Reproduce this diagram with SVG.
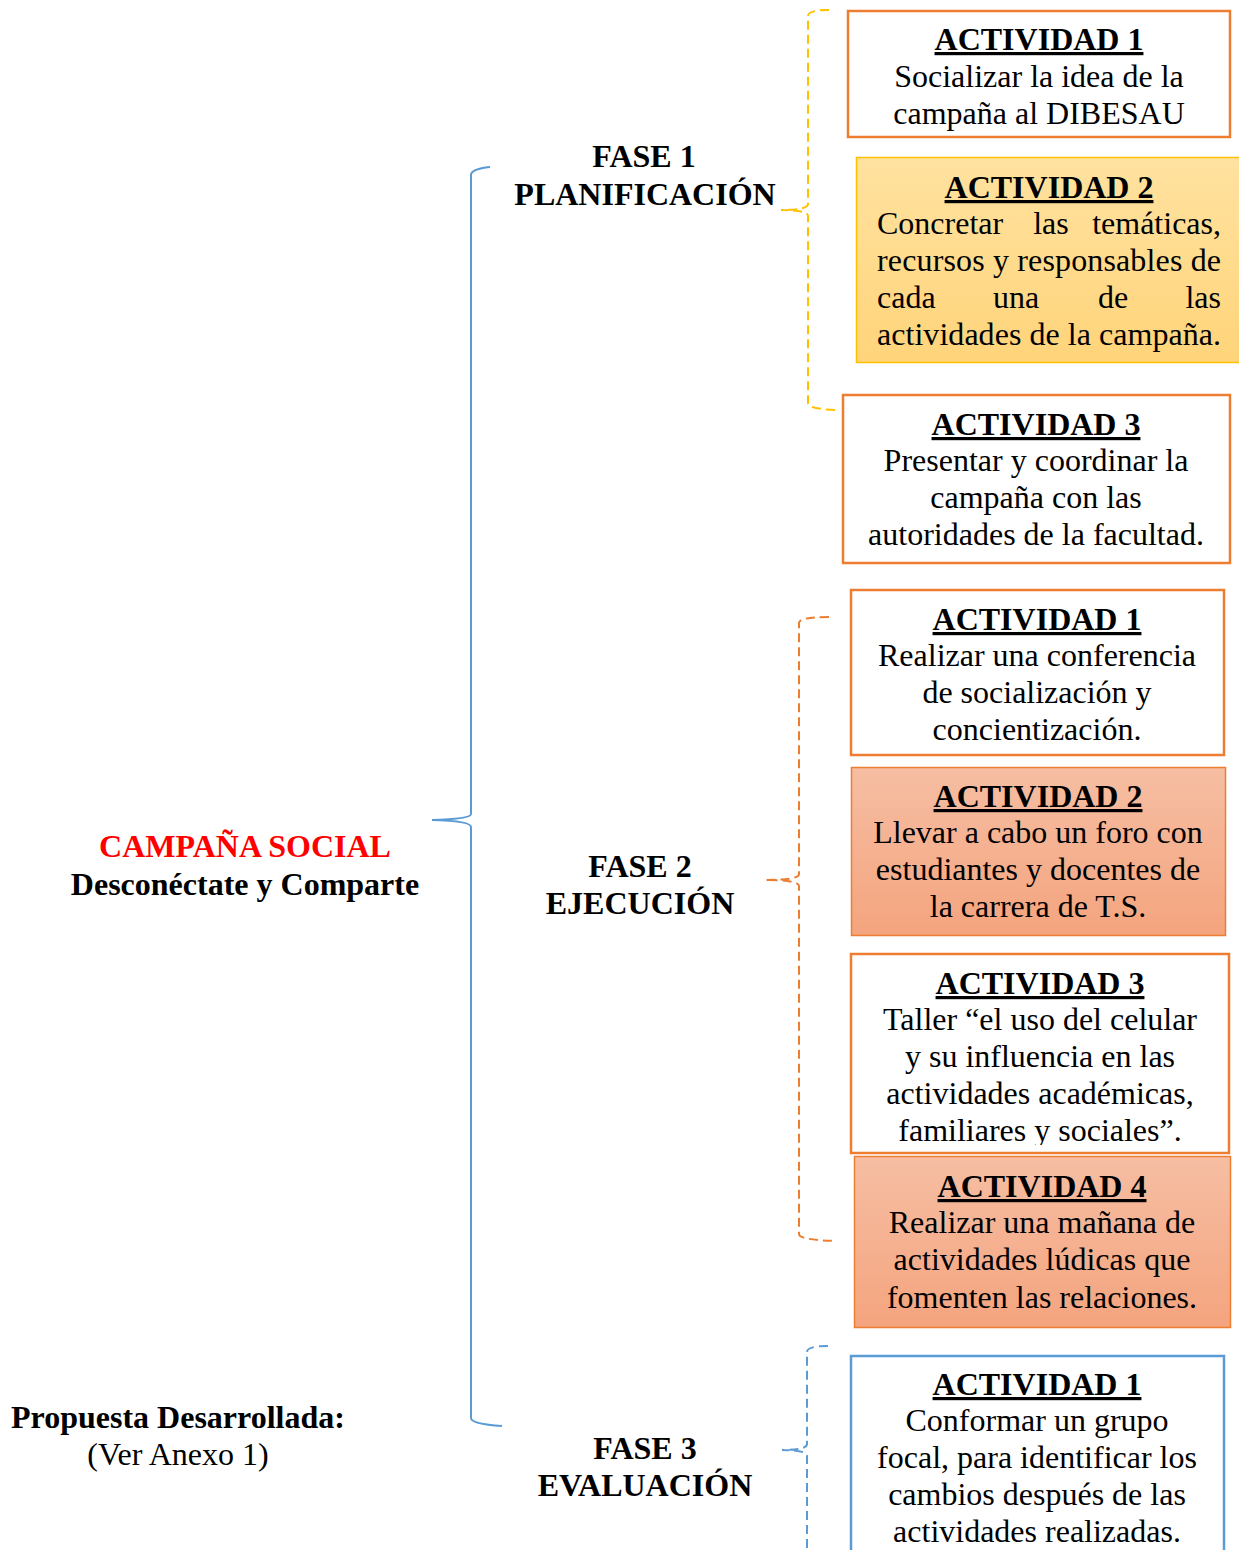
<svg xmlns="http://www.w3.org/2000/svg" width="1239" height="1550" viewBox="0 0 1239 1550">
<style>
text{font-family:"Liberation Serif","Times New Roman",serif;fill:#000}
.h{font-weight:bold;font-size:32px;text-decoration:underline;text-anchor:middle}
.b{font-size:32px;text-anchor:middle}
.j{font-size:32px}
.f{font-weight:bold;font-size:32px;text-anchor:middle}
.box{stroke:#ED7D31;stroke-width:2.5;fill:#fff}
.sal{stroke:#ED7D31;stroke-width:1.5;fill:url(#gs)}
.yel{stroke:#FFC000;stroke-width:1.5;fill:url(#gy)}
.blu{stroke:#5B9BD5;stroke-width:2.5;fill:#fff}
.brace{fill:none;stroke:#5B9BD5;stroke-width:2}
.dy{fill:none;stroke:#FFC000;stroke-width:2;stroke-dasharray:9,5}
.do{fill:none;stroke:#ED7D31;stroke-width:2;stroke-dasharray:9,5}
.db{fill:none;stroke:#5B9BD5;stroke-width:2;stroke-dasharray:9,5}
</style>
<defs>
<linearGradient id="gy" x1="0" y1="0" x2="0" y2="1"><stop offset="0" stop-color="#FFE2A0"/><stop offset="1" stop-color="#FFD47A"/></linearGradient>
<linearGradient id="gs" x1="0" y1="0" x2="0" y2="1"><stop offset="0" stop-color="#F6BEA3"/><stop offset="1" stop-color="#F4A47E"/></linearGradient>
<clipPath id="c23"><rect x="851" y="954" width="378" height="191"/></clipPath>
</defs>
<rect width="1239" height="1550" fill="#fff"/>

<g id="connectors">
<path class="brace" d="M490,167 Q471,169 471,175 L471,814 Q471,819 432,820 Q471,821 471,827 L471,1418 Q471,1424 502,1426"/>
<path class="dy" d="M829,10 Q808,10 808,16 L808,204 Q808,210 781,210 Q808,210 808,216 L808,403 Q808,409 836,410"/>
<path class="do" d="M829,617 Q799,617 799,623 L799,874 Q799,880 765,880 Q799,880 799,886 L799,1234 Q799,1240 836,1241"/>
<path class="db" d="M828,1346 Q807,1346 807,1352 L807,1444 Q807,1450 782,1450 Q807,1450 807,1456 L807,1550"/>
</g>

<g id="campana">
<text x="245" y="857" class="f" style="fill:#FF0000">CAMPAÑA SOCIAL</text>
<text x="245" y="895" class="f">Desconéctate y Comparte</text>
</g>
<g id="propuesta">
<text x="11" y="1428" style="font-weight:bold;font-size:32px">Propuesta Desarrollada:</text>
<text x="178" y="1465" class="b">(Ver Anexo 1)</text>
</g>

<g id="fase1">
<text x="644" y="167" class="f">FASE 1</text>
<text x="645" y="205" class="f">PLANIFICACIÓN</text>
</g>
<g id="fase2">
<text x="640" y="877" class="f">FASE 2</text>
<text x="640" y="914" class="f">EJECUCIÓN</text>
</g>
<g id="fase3">
<text x="645" y="1459" class="f">FASE 3</text>
<text x="645" y="1496" class="f">EVALUACIÓN</text>
</g>

<g id="f1a1">
<rect class="box" x="848" y="11" width="382" height="126"/>
<text x="1039" y="50" class="h">ACTIVIDAD 1</text>
<text x="1039" y="87" class="b">Socializar la idea de la</text>
<text x="1039" y="124" class="b">campaña al DIBESAU</text>
</g>

<g id="f1a2">
<rect class="yel" x="856.5" y="157.5" width="385" height="205"/>
<text x="1049" y="198" class="h">ACTIVIDAD 2</text>
<text x="877" y="234" class="j">Concretar</text>
<text x="1051" y="234" class="j" style="text-anchor:middle">las</text>
<text x="1221" y="234" class="j" style="text-anchor:end">temáticas,</text>
<text x="877" y="271" class="j" textLength="344" lengthAdjust="spacing">recursos y responsables de</text>
<text x="877" y="308" class="j">cada</text>
<text x="1016" y="308" class="j" style="text-anchor:middle">una</text>
<text x="1113" y="308" class="j" style="text-anchor:middle">de</text>
<text x="1221" y="308" class="j" style="text-anchor:end">las</text>
<text x="877" y="345" class="j" textLength="344" lengthAdjust="spacing">actividades de la campaña.</text>
</g>

<g id="f1a3">
<rect class="box" x="843" y="395" width="387" height="168"/>
<text x="1036" y="435" class="h">ACTIVIDAD 3</text>
<text x="1036" y="471" class="b">Presentar y coordinar la</text>
<text x="1036" y="508" class="b">campaña con las</text>
<text x="1036" y="545" class="b">autoridades de la facultad.</text>
</g>

<g id="f2a1">
<rect class="box" x="851" y="590" width="373" height="165"/>
<text x="1037" y="630" class="h">ACTIVIDAD 1</text>
<text x="1037" y="666" class="b">Realizar una conferencia</text>
<text x="1037" y="703" class="b">de socialización y</text>
<text x="1037" y="740" class="b">concientización.</text>
</g>

<g id="f2a2">
<rect class="sal" x="851.5" y="767.5" width="374" height="168"/>
<text x="1038" y="807" class="h">ACTIVIDAD 2</text>
<text x="1038" y="843" class="b">Llevar a cabo un foro con</text>
<text x="1038" y="880" class="b">estudiantes y docentes de</text>
<text x="1038" y="917" class="b">la carrera de T.S.</text>
</g>

<g id="f2a3">
<rect class="box" x="851" y="954" width="378" height="199"/>
<g clip-path="url(#c23)">
<text x="1040" y="994" class="h">ACTIVIDAD 3</text>
<text x="1040" y="1030" class="b">Taller “el uso del celular</text>
<text x="1040" y="1067" class="b">y su influencia en las</text>
<text x="1040" y="1104" class="b">actividades académicas,</text>
<text x="1040" y="1141" class="b">familiares y sociales”.</text>
</g>
</g>

<g id="f2a4">
<rect class="sal" x="854.5" y="1156.5" width="376" height="171"/>
<text x="1042" y="1197" class="h">ACTIVIDAD 4</text>
<text x="1042" y="1233" class="b">Realizar una mañana de</text>
<text x="1042" y="1270" class="b">actividades lúdicas que</text>
<text x="1042" y="1308" class="b">fomenten las relaciones.</text>
</g>

<g id="f3a1">
<rect class="blu" x="851" y="1356" width="373" height="220"/>
<text x="1037" y="1395" class="h">ACTIVIDAD 1</text>
<text x="1037" y="1431" class="b">Conformar un grupo</text>
<text x="1037" y="1468" class="b">focal, para identificar los</text>
<text x="1037" y="1505" class="b">cambios después de las</text>
<text x="1037" y="1542" class="b">actividades realizadas.</text>
</g>
</svg>
